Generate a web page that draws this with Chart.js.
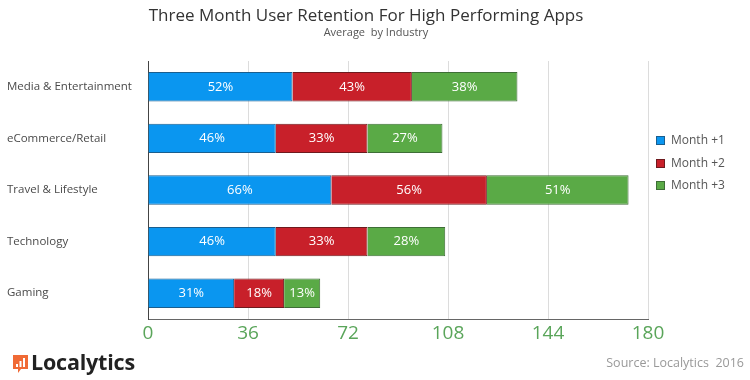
<!DOCTYPE html>
<html>
<head>
<meta charset="utf-8">
<script src="https://cdn.jsdelivr.net/npm/chart.js@4.4.1/dist/chart.umd.min.js"></script>
<style>
  html, body { margin: 0; padding: 0; background: #fff; }
  #wrap { position: relative; width: 750px; height: 380px; font-family: "Open Sans", sans-serif; }
  #chart { position: absolute; left: 0; top: 0; }
  .title { position: absolute; left: 0; width: 732px; text-align: center; top: 3px; font-size: 17px; color: #333; }
  .subtitle { position: absolute; left: 0; width: 752px; text-align: center; top: 24px; font-size: 11px; color: #555; }
  #legend { position: absolute; left: 656px; top: 131px; font-size: 12px; color: #555; }
  #legend div { height: 22.5px; line-height: 18px; white-space: nowrap; }
  #legend span.box { display: inline-block; width: 9px; height: 9px; margin-right: 6px; vertical-align: -1px; box-sizing: border-box; }
  .logo { position: absolute; left: 13px; top: 347px; font-size: 21.5px; font-weight: 700; color: #222; letter-spacing: -0.2px; }
  .logo svg { vertical-align: -3px; margin-right: 3px; }
  .source { position: absolute; right: 6px; top: 354px; font-size: 12.5px; color: #999; }
</style>
</head>
<body>
<div id="wrap">
  <canvas id="chart" width="750" height="380"></canvas>
  <div class="title">Three Month User Retention For High Performing Apps</div>
  <div class="subtitle">Average&nbsp; by Industry</div>
  <div id="legend"></div>
  <div class="logo"><svg width="15" height="18" viewBox="0 0 15 18"><path d="M0 0h15v14H8l-3 4v-4H0z" fill="#f06a35"/><rect x="3" y="9" width="2" height="3" fill="#fff"/><rect x="6.5" y="6" width="2" height="6" fill="#fff"/><rect x="10" y="3" width="2" height="9" fill="#fff"/></svg>Localytics</div>
  <div class="source">Source: Localytics&nbsp; 2016</div>
</div>
<script>
const categories = ["Media & Entertainment", "eCommerce/Retail", "Travel & Lifestyle", "Technology", "Gaming"];
const month1 = [52, 46, 66, 46, 31];
const month2 = [43, 33, 56, 33, 18];
const month3 = [38, 27, 51, 28, 13];
const seriesNames = ["Month +1", "Month +2", "Month +3"];
const xTicks = [0, 36, 72, 108, 144, 180];

const fills = ["#0a96f0", "#c8202a", "#5aaa46"];
const edges = ["#1a5e8e", "#6e1a1e", "#3e6e36"];

// white percent labels in the middle of each segment
const segmentLabels = {
  id: "segmentLabels",
  afterDatasetsDraw(chart) {
    const c = chart.ctx;
    c.save();
    c.fillStyle = "#fff";
    c.font = "13px 'Open Sans', sans-serif";
    c.textAlign = "center";
    c.textBaseline = "middle";
    chart.data.datasets.forEach((ds, i) => {
      chart.getDatasetMeta(i).data.forEach((bar, j) => {
        const mid = (bar.x + bar.base) / 2;
        c.fillText(ds.data[j] + "%", mid, bar.y);
      });
    });
    c.restore();
  }
};

const series = [month1, month2, month3];
new Chart(document.getElementById("chart").getContext("2d"), {
  type: "bar",
  data: {
    labels: categories,
    datasets: series.map((d, i) => ({
      label: seriesNames[i],
      data: d,
      backgroundColor: fills[i],
      borderColor: edges[i],
      borderWidth: 1,
      barPercentage: 0.6,
      categoryPercentage: 0.95,
    })),
  },
  options: {
    indexAxis: "y",
    responsive: false,
    animation: false,
    layout: { padding: { left: 7, top: 61, right: 102, bottom: 0 } },
    scales: {
      x: {
        stacked: true,
        min: 0,
        max: 180,
        afterBuildTicks: (s) => { s.ticks = xTicks.map(v => ({ value: v })); },
        afterFit: (s) => { s.height = 61; },
        border: { color: "#666", width: 1 },
        grid: { color: "#dcdcdc", drawTicks: false },
        ticks: { color: "#5aa55a", padding: 3, font: { family: "Open Sans", size: 19 } },
      },
      y: {
        stacked: true,
        afterFit: (s) => { s.width = 141; },
        border: { color: "#444", width: 1 },
        grid: { display: false, drawTicks: false },
        ticks: { crossAlign: "far", color: "#4a4a4a", padding: 7, font: { family: "Open Sans", size: 11.5 } },
      },
    },
    plugins: {
      legend: { display: false },
      tooltip: { enabled: false },
    },
  },
  plugins: [segmentLabels],
});

// legend on the right
const legendEl = document.getElementById("legend");
seriesNames.forEach((name, i) => {
  const row = document.createElement("div");
  row.innerHTML = '<span class="box" style="background:' + fills[i] + ';border:1px solid ' + edges[i] + '"></span>' + name;
  legendEl.appendChild(row);
});
</script>
</body>
</html>
